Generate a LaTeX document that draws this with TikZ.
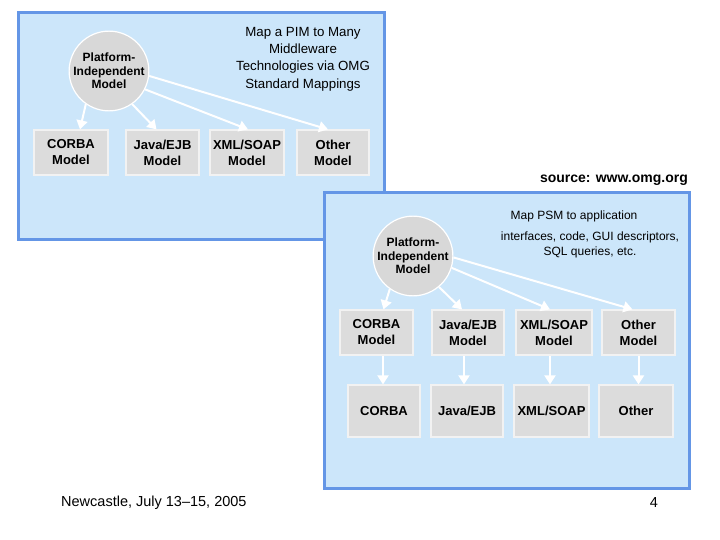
\documentclass[tikz,border=0pt]{standalone}
\usepackage{fontspec}
\setmainfont{Liberation Sans}
\usetikzlibrary{arrows.meta}
\definecolor{panelfill}{RGB}{204,230,250}
\definecolor{panelline}{RGB}{100,150,230}
\definecolor{boxfill}{RGB}{220,220,220}
\definecolor{circfill}{RGB}{216,216,216}
\tikzset{
  panel/.style={draw=panelline,fill=panelfill,line width=3pt},
  mbox/.style={draw=white!90!gray,fill=boxfill,line width=1.2pt,align=center,
    inner sep=0pt,font=\fontsize{13}{16}\selectfont\bfseries},
  pim/.style={circle,draw=white,fill=circfill,line width=1.2pt,minimum size=78pt,
    inner sep=0pt,align=center,font=\fontsize{12}{13.7}\selectfont\bfseries},
  arr/.style={draw=white,line width=2pt,-{Triangle[width=11pt,length=9pt]}},
  title/.style={align=center,inner sep=0pt}
}
\begin{document}
\begin{tikzpicture}[x=1pt,y=-1pt]
\useasboundingbox (0,0) rectangle (720,540);
% ---------- panel 1 ----------
\path[panel] (18,13) rectangle (384,239);
\node[pim] (p1) at (109,71) {Platform-\\Independent\\Model};
\node[title,font=\fontsize{13.3}{17.4}\selectfont] (t1) at (303,59)
  {Map a PIM to Many\\Middleware\\Technologies via OMG\\Standard Mappings};
\node[mbox,minimum width=74pt,minimum height=45pt] (a1) at (71,152.5) {CORBA\\Model};
\node[mbox,minimum width=73pt,minimum height=45pt] (a2) at (162.5,152.5) {Java/EJB\\Model};
\node[mbox,minimum width=74pt,minimum height=45pt] (a3) at (247,152.5) {XML/SOAP\\Model};
\node[mbox,minimum width=72pt,minimum height=45pt] (a4) at (333,152.5) {Other\\Model};
\draw[arr] (p1.-125) -- ([xshift=9pt]a1.north);
\draw[arr] (p1.-55) -- ([xshift=-6pt]a2.north);
\draw[arr] (p1.-27) -- ([xshift=1pt]a3.north);
\draw[arr] (p1.-7) -- ([xshift=-5pt]a4.north);
% ---------- source ----------
\node[anchor=east,inner sep=0pt,font=\fontsize{14}{16}\selectfont\bfseries] (src) at (688,180)
  {source: www.omg.org};
% ---------- panel 2 ----------
\path[panel] (324,193) rectangle (689,488);
\node[pim] (p2) at (413,256) {Platform-\\Independent\\Model};
\node[title,font=\fontsize{12}{15}\selectfont] (t2a) at (574,216) {Map PSM to application};
\node[title,font=\fontsize{12}{15}\selectfont] (t2b) at (590,245)
  {interfaces, code, GUI descriptors,\\SQL queries, etc.};
\node[mbox,minimum width=73pt,minimum height=45pt] (b1) at (376.5,332.5) {CORBA\\Model};
\node[mbox,minimum width=72pt,minimum height=45pt] (b2) at (468,332.5) {Java/EJB\\Model};
\node[mbox,minimum width=76pt,minimum height=45pt] (b3) at (554,332.5) {XML/SOAP\\Model};
\node[mbox,minimum width=73pt,minimum height=45pt] (b4) at (638.5,332.5) {Other\\Model};
\node[mbox,minimum width=72pt,minimum height=52pt] (c1) at (384,411) {CORBA};
\node[mbox,minimum width=72pt,minimum height=52pt] (c2) at (467,411) {Java/EJB};
\node[mbox,minimum width=75pt,minimum height=52pt] (c3) at (551.5,411) {XML/SOAP};
\node[mbox,minimum width=74pt,minimum height=52pt] (c4) at (636,411) {Other};
\draw[arr] (p2.-125) -- ([xshift=7pt]b1.north);
\draw[arr] (p2.-50) -- ([xshift=-6pt]b2.north);
\draw[arr] (p2.-17) -- ([xshift=-4pt]b3.north);
\draw[arr] (p2.-2) -- ([xshift=-6pt]b4.north);
\draw[arr] ([xshift=6.5pt]b1.south) -- ([xshift=6.5pt]b1.south |- c1.north);
\draw[arr] ([xshift=-4pt]b2.south) -- ([xshift=-4pt]b2.south |- c2.north);
\draw[arr] ([xshift=-4pt]b3.south) -- ([xshift=-4pt]b3.south |- c3.north);
\draw[arr] (b4.south) -- (b4.south |- c4.north);
% ---------- footer ----------
\node[anchor=west,inner sep=0pt,font=\fontsize{14.5}{16}\selectfont] (foot) at (61,503)
  {Newcastle, July 13--15, 2005};
\node[inner sep=0pt,font=\fontsize{14.5}{16}\selectfont] (num) at (654,503) {4};
\end{tikzpicture}
\end{document}
